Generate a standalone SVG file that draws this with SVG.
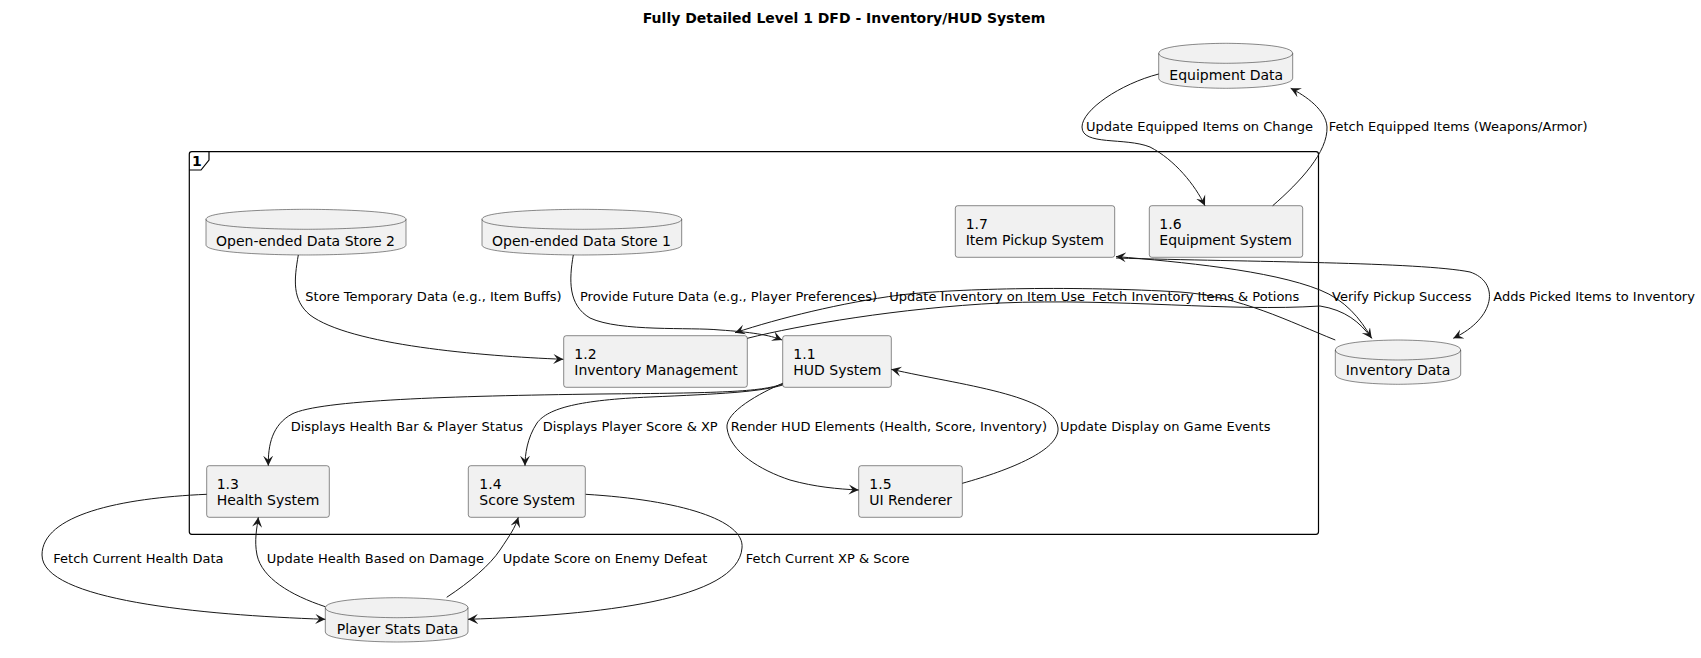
<svg xmlns="http://www.w3.org/2000/svg" width="1701" height="658" viewBox="0 0 1701 658">
<style>
text{font-family:"DejaVu Sans","Liberation Sans",sans-serif;fill:#000}
.t{font-size:14px}
.l{font-size:13px}
.b{font-size:14px;font-weight:bold}
.box{fill:#F1F1F1;stroke:#181818;stroke-width:0.5}
.e{fill:none;stroke:#181818;stroke-width:1}
.a{marker-end:url(#arr)}
</style>
<defs>
<marker id="arr" markerUnits="userSpaceOnUse" markerWidth="12" markerHeight="12" refX="10" refY="5" orient="auto" viewBox="0 0 12 10">
<path d="M0,0 L10,5 L0,10 L4,5 Z" fill="#181818"/>
</marker>
</defs>
<rect width="1701" height="658" fill="#FFFFFF"/>
<text class="b" x="844" y="23" text-anchor="middle">Fully Detailed Level 1 DFD - Inventory/HUD System</text>

<g id="frame1">
<rect x="189.3" y="151.7" width="1129.2" height="382.6" rx="2.5" fill="none" stroke="#000" stroke-width="1.2"/>
<path d="M189.3,170 L201,170 L209,160 L209,151.7" fill="none" stroke="#000" stroke-width="1.2"/>
<text class="b" x="192" y="166">1</text>
</g>

<g id="equipment-data">
<path class="box" d="M1158.7,53.3 C1158.7,43.3 1225.7,43.3 1225.7,43.3 C1225.7,43.3 1292.7,43.3 1292.7,53.3 L1292.7,78.3 C1292.7,88.3 1225.7,88.3 1225.7,88.3 C1225.7,88.3 1158.7,88.3 1158.7,78.3 Z"/>
<path class="box" style="fill:none" d="M1158.7,53.3 C1158.7,63.3 1225.7,63.3 1225.7,63.3 C1225.7,63.3 1292.7,63.3 1292.7,53.3"/>
<text class="t" x="1169.3" y="80">Equipment Data</text>
</g>

<g id="ds2">
<path class="box" d="M206,219.3 C206,209.3 306,209.3 306,209.3 C306,209.3 406,209.3 406,219.3 L406,245 C406,255 306,255 306,255 C306,255 206,255 206,245 Z"/>
<path class="box" style="fill:none" d="M206,219.3 C206,229.3 306,229.3 306,229.3 C306,229.3 406,229.3 406,219.3"/>
<text class="t" x="216" y="246">Open-ended Data Store 2</text>
</g>

<g id="ds1">
<path class="box" d="M482,219.3 C482,209.3 581.8,209.3 581.8,209.3 C581.8,209.3 681.7,209.3 681.7,219.3 L681.7,245 C681.7,255 581.8,255 581.8,255 C581.8,255 482,255 482,245 Z"/>
<path class="box" style="fill:none" d="M482,219.3 C482,229.3 581.8,229.3 581.8,229.3 C581.8,229.3 681.7,229.3 681.7,219.3"/>
<text class="t" x="492" y="246">Open-ended Data Store 1</text>
</g>

<g id="inventory-data">
<path class="box" d="M1335.3,350 C1335.3,340 1398,340 1398,340 C1398,340 1460.7,340 1460.7,350 L1460.7,374.3 C1460.7,384.3 1398,384.3 1398,384.3 C1398,384.3 1335.3,384.3 1335.3,374.3 Z"/>
<path class="box" style="fill:none" d="M1335.3,350 C1335.3,360 1398,360 1398,360 C1398,360 1460.7,360 1460.7,350"/>
<text class="t" x="1345.7" y="375">Inventory Data</text>
</g>

<g id="player-stats">
<path class="box" d="M325.3,607.7 C325.3,597.7 396.7,597.7 396.7,597.7 C396.7,597.7 468,597.7 468,607.7 L468,632 C468,642 396.7,642 396.7,642 C396.7,642 325.3,642 325.3,632 Z"/>
<path class="box" style="fill:none" d="M325.3,607.7 C325.3,617.7 396.7,617.7 396.7,617.7 C396.7,617.7 468,617.7 468,607.7"/>
<text class="t" x="336.7" y="634.3">Player Stats Data</text>
</g>

<g id="p17">
<rect class="box" x="955.3" y="205.7" width="159.4" height="51.6" rx="2.5"/>
<text class="t" x="965.7" y="228.5">1.7</text>
<text class="t" x="965.7" y="245">Item Pickup System</text>
</g>
<g id="p16">
<rect class="box" x="1149.3" y="205.7" width="153.4" height="51.6" rx="2.5"/>
<text class="t" x="1159.3" y="228.5">1.6</text>
<text class="t" x="1159.3" y="245">Equipment System</text>
</g>
<g id="p12">
<rect class="box" x="563.7" y="335.7" width="183.6" height="51.6" rx="2.5"/>
<text class="t" x="574.3" y="358.5">1.2</text>
<text class="t" x="574.3" y="375">Inventory Management</text>
</g>
<g id="p11">
<rect class="box" x="782.7" y="335.7" width="108.6" height="51.6" rx="2.5"/>
<text class="t" x="793.3" y="358.5">1.1</text>
<text class="t" x="793.3" y="375">HUD System</text>
</g>
<g id="p13">
<rect class="box" x="206.7" y="465.7" width="122.6" height="51.6" rx="2.5"/>
<text class="t" x="216.7" y="488.5">1.3</text>
<text class="t" x="216.7" y="505">Health System</text>
</g>
<g id="p14">
<rect class="box" x="468.3" y="465.7" width="117" height="51.6" rx="2.5"/>
<text class="t" x="479.3" y="488.5">1.4</text>
<text class="t" x="479.3" y="505">Score System</text>
</g>
<g id="p15">
<rect class="box" x="858.7" y="465.7" width="103.6" height="51.6" rx="2.5"/>
<text class="t" x="869.3" y="488.5">1.5</text>
<text class="t" x="869.3" y="505">UI Renderer</text>
</g>

<g id="connectors">
<path class="e a" d="M1158.7,74 C1120,84 1082,110 1082,127 C1082,146 1125,137 1150,147 C1175,160 1195,185 1205,205.7"/>
<path class="e a" d="M1272.7,205.7 C1300,182 1328,152 1327,127 C1326,110 1306,96 1290.7,88.3"/>
<path class="e a" d="M1371.7,338.3 C1360,318 1345,300 1320,290 C1270,270 1180,262 1116,256.5"/>
<path class="e a" d="M1116,258 C1250,262 1420,262 1470,272 C1500,282 1496,318 1453.3,338.3"/>
<path class="e a" d="M747.3,338.3 C800,325 900,308 1000,303 C1120,298 1230,312 1320,306 C1345,310 1360,322 1371.7,338.3"/>
<path class="e a" d="M1335.3,340 C1290,322 1240,296 1180,292 C1080,286 960,288 900,295 C840,303 780,318 735,332.7"/>
<path class="e a" d="M298.3,255 C294,280 292,300 310,315 C350,345 480,356 563.3,359.3"/>
<path class="e a" d="M573.3,255 C569,280 568,305 590,318 C620,332 690,327 720,330 C750,332 770,335 782,340"/>
<path class="e a" d="M782.7,384 C760,392 720,393 600,394 C450,396 320,400 292,414 C272,425 268,445 268.3,465.7"/>
<path class="e a" d="M782.7,385 C760,392 720,394 650,397 C580,400 548,408 537,423 C527,438 525,455 525,465.7"/>
<path class="e a" d="M782.7,383.3 C760,393 725,412 727,428 C730,452 760,470 790,480 C815,487 838,489 858.7,490"/>
<path class="e a" d="M962.3,483.3 C1010,470 1060,450 1058,428 C1055,395 960,385 891.3,369.3"/>
<path class="e a" d="M206.7,494.3 C120,498 42,515 42,555 C42,600 200,615 325.3,619.3"/>
<path class="e a" d="M325.3,606.7 C290,595 262,578 257,555 C254,540 257,528 258.3,517.3"/>
<path class="e a" d="M446.7,597.3 C470,582 490,565 500,550 C510,535 515,528 518.3,517.3"/>
<path class="e a" d="M585.7,494.3 C680,500 745,520 742,548 C738,600 600,615 468,619.3"/>
</g>

<g id="labels">
<text class="l" x="1086" y="131">Update Equipped Items on Change</text>
<text class="l" x="1328.7" y="131">Fetch Equipped Items (Weapons/Armor)</text>
<text class="l" x="305.3" y="301">Store Temporary Data (e.g., Item Buffs)</text>
<text class="l" x="580" y="301">Provide Future Data (e.g., Player Preferences)</text>
<text class="l" x="889.3" y="301">Update Inventory on Item Use</text>
<text class="l" x="1092" y="301">Fetch Inventory Items &amp; Potions</text>
<text class="l" x="1332" y="301">Verify Pickup Success</text>
<text class="l" x="1493.3" y="301">Adds Picked Items to Inventory</text>
<text class="l" x="290.7" y="431">Displays Health Bar &amp; Player Status</text>
<text class="l" x="542.7" y="431">Displays Player Score &amp; XP</text>
<text class="l" x="730.7" y="431">Render HUD Elements (Health, Score, Inventory)</text>
<text class="l" x="1060" y="431">Update Display on Game Events</text>
<text class="l" x="53.3" y="563">Fetch Current Health Data</text>
<text class="l" x="266.7" y="563">Update Health Based on Damage</text>
<text class="l" x="502.7" y="563">Update Score on Enemy Defeat</text>
<text class="l" x="745.7" y="563">Fetch Current XP &amp; Score</text>
</g>
</svg>
